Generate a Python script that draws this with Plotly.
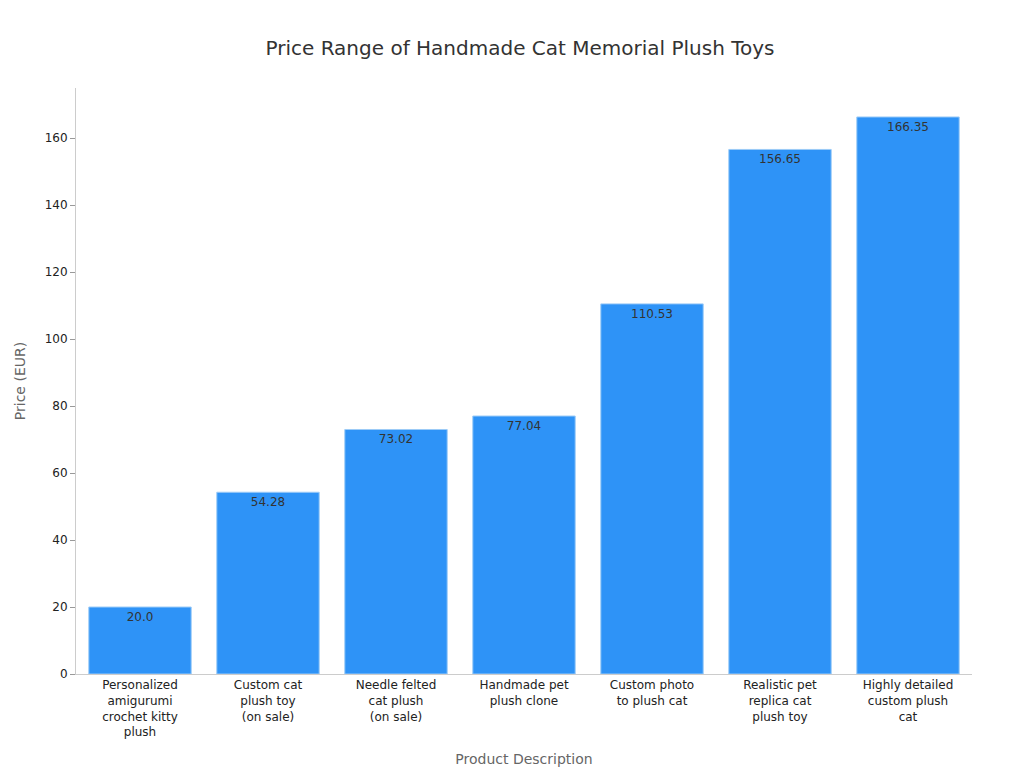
import plotly.graph_objects as go

categories = ["Personalized<br>amigurumi<br>crochet kitty<br>plush", "Custom cat<br>plush toy<br>(on sale)",
              "Needle felted<br>cat plush<br>(on sale)", "Handmade pet<br>plush clone",
              "Custom photo<br>to plush cat", "Realistic pet<br>replica cat<br>plush toy",
              "Highly detailed<br>custom plush<br>cat"]
prices = [20.0, 54.28, 73.02, 77.04, 110.53, 156.65, 166.35]
labels = ["20.0", "54.28", "73.02", "77.04", "110.53", "156.65", "166.35"]

fig = go.Figure(go.Bar(x=categories, y=prices, text=labels, textposition="inside",
                       insidetextanchor="end", textfont=dict(color="#333", size=12),
                       marker=dict(color="#2E93F7", line=dict(color="#9CCBF7", width=1))))
fig.update_layout(
    width=1024, height=768, template="simple_white",
    font=dict(family="DejaVu Sans", size=12, color="#222"),
    title=dict(text="Price Range of Handmade Cat Memorial Plush Toys", x=0.5, y=0.957,
               font=dict(size=20, color="#333")),
    margin=dict(l=68, r=60, t=80, b=75),
    bargap=0.2,
    xaxis=dict(title=dict(text="Product Description", font=dict(size=14, color="#666")),
               linecolor="#ccc", ticks=""),
    yaxis=dict(title=dict(text="Price (EUR)", font=dict(size=14, color="#666")),
               range=[0, 175], dtick=20, linecolor="#ccc", tickcolor="#999"),
)
fig.write_html("out.html")
